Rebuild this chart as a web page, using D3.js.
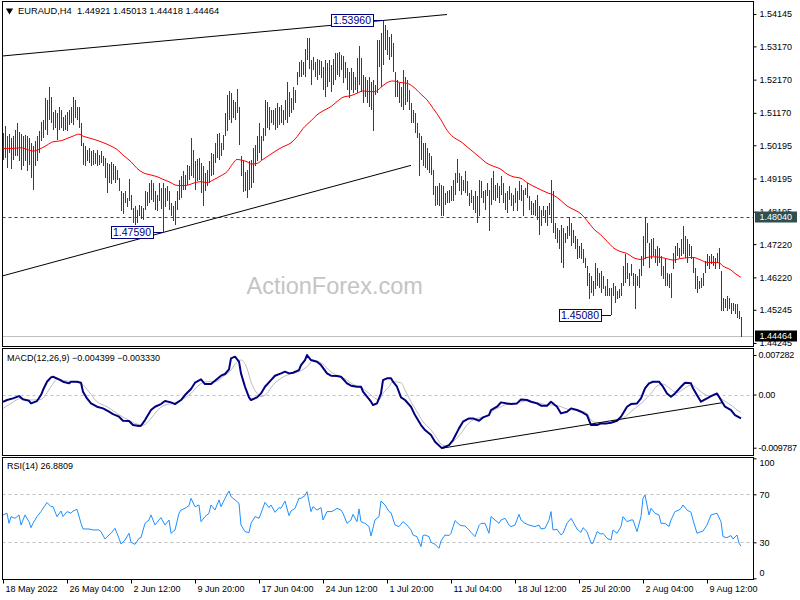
<!DOCTYPE html>
<html><head><meta charset="utf-8">
<script src="https://cdn.jsdelivr.net/npm/d3@7"></script>
<style>
body{margin:0;background:#fff;}
svg{display:block;font-family:"Liberation Sans",Arial,sans-serif;}
</style></head><body>
<svg id="c" width="800" height="600"></svg>
<script>
// ---------------- DATA ----------------
const symbolTitle = "EURAUD,H4";
const lastQuote = [1.44921, 1.45013, 1.44418, 1.44464]; // O H L C of last bar
const currentPrice = 1.44464;
const levelPrice = 1.48040;

// H4 bar highs (370 bars, 18 May 2022 20:00 .. 12 Aug 2022 08:00)
const highs = [
1.5056,1.5076,1.5046,1.5054,1.5041,1.5048,1.5064,1.5086,1.5058,1.5054,
1.5046,1.5051,1.5048,1.5041,1.5026,1.5016,1.5031,1.5046,1.5061,1.5091,
1.5096,1.5161,1.5156,1.5196,1.5164,1.5121,1.5126,1.5116,1.5136,1.5126,
1.5106,1.5111,1.5121,1.5126,1.5136,1.5164,1.5156,1.5134,1.5136,1.5086,
1.5026,1.5016,1.5006,1.5011,1.5001,1.5006,1.4996,1.5006,1.4991,1.5001,
1.4986,1.4981,1.4966,1.4964,1.4968,1.4964,1.4956,1.4946,1.4921,1.4881,
1.4876,1.4881,1.4861,1.4918,1.4871,1.4831,1.4836,1.4826,1.4841,1.4836,
1.4831,1.4881,1.4878,1.4906,1.4914,1.4906,1.4881,1.4871,1.4906,1.4891,
1.4906,1.4891,1.4896,1.4881,1.4846,1.4836,1.4851,1.4881,1.4916,1.4926,
1.4941,1.4931,1.4961,1.4956,1.5041,1.5006,1.4971,1.4978,1.4981,1.4966,
1.4956,1.4936,1.4946,1.4971,1.4996,1.4994,1.5026,1.5054,1.5056,1.5026,
1.5051,1.5116,1.5171,1.5183,1.5176,1.5156,1.5151,1.5188,1.5136,1.4986,
1.4971,1.4938,1.4946,1.4971,1.4976,1.5011,1.5021,1.5046,1.5086,1.5046,
1.5071,1.5156,1.5151,1.5136,1.5126,1.5126,1.5131,1.5146,1.5136,1.5141,
1.5126,1.5156,1.5211,1.5181,1.5161,1.5196,1.5186,1.5241,1.5271,1.5276,
1.5271,1.5308,1.5343,1.5341,1.5276,1.5286,1.5271,1.5278,1.5276,1.5274,
1.5256,1.5276,1.5266,1.5276,1.5261,1.5278,1.5296,1.5298,1.5301,1.5291,
1.5288,1.5271,1.5251,1.5241,1.5251,1.5241,1.5226,1.5281,1.5318,1.5281,
1.5231,1.5226,1.5216,1.5226,1.5211,1.5216,1.5201,1.5336,1.5336,1.5356,
1.5396,1.5381,1.5366,1.5346,1.5354,1.5326,1.5241,1.5216,1.5206,1.5196,
1.5246,1.5226,1.5216,1.5186,1.5146,1.5126,1.5116,1.5086,1.5056,1.5046,
1.5026,1.5026,1.5011,1.4996,1.4986,1.4946,1.4896,1.4896,1.4906,1.4901,
1.4896,1.4876,1.4881,1.4886,1.4896,1.4916,1.4936,1.4978,1.4936,1.4926,
1.4916,1.4941,1.4911,1.4876,1.4886,1.4866,1.4881,1.4866,1.4916,1.4911,
1.4881,1.4886,1.4906,1.4886,1.4921,1.4943,1.4901,1.4906,1.4896,1.4926,
1.4906,1.4876,1.4881,1.4896,1.4876,1.4871,1.4891,1.4881,1.4911,1.4901,
1.4886,1.4891,1.4906,1.4866,1.4851,1.4846,1.4856,1.4871,1.4836,1.4826,
1.4836,1.4826,1.4836,1.4846,1.4914,1.4881,1.4786,1.4771,1.4766,1.4781,
1.4771,1.4756,1.4776,1.4804,1.4786,1.4766,1.4746,1.4736,1.4716,1.4726,
1.4706,1.4681,1.4656,1.4636,1.4626,1.4611,1.4666,1.4651,1.4636,1.4641,
1.4626,1.4596,1.4616,1.4591,1.4591,1.4606,1.4596,1.4581,1.4586,1.4606,
1.4656,1.4691,1.4666,1.4636,1.4661,1.4636,1.4631,1.4626,1.4646,1.4686,
1.4746,1.4804,1.4786,1.4726,1.4736,1.4741,1.4706,1.4716,1.4711,1.4686,
1.4656,1.4676,1.4636,1.4631,1.4636,1.4696,1.4716,1.4726,1.4711,1.4736,
1.4776,1.4746,1.4736,1.4721,1.4716,1.4681,1.4651,1.4626,1.4611,1.4621,
1.4636,1.4671,1.4691,1.4686,1.4691,1.4686,1.4681,1.4696,1.4710,1.4641,
1.4561,1.4556,1.4566,1.4561,1.4546,1.4546,1.4541,1.4541,1.4521,1.45013
];
const lows = [
1.4976,1.4981,1.4951,1.4996,1.4948,1.4974,1.4986,1.4988,1.4971,1.4944,
1.4956,1.4971,1.4941,1.4961,1.4921,1.4884,1.4956,1.4971,1.4996,1.5031,
1.5041,1.5066,1.5051,1.5096,1.5086,1.5066,1.5071,1.5036,1.5066,1.5071,
1.5061,1.5066,1.5061,1.5081,1.5086,1.5081,1.5101,1.5096,1.5071,1.5016,
1.4961,1.4956,1.4971,1.4966,1.4958,1.4961,1.4964,1.4956,1.4961,1.4966,
1.4956,1.4921,1.4876,1.4906,1.4904,1.4916,1.4906,1.4916,1.4881,1.4821,
1.4814,1.4846,1.4834,1.4851,1.4826,1.4786,1.4781,1.4786,1.4806,1.4798,
1.4796,1.4826,1.4836,1.4846,1.4856,1.4848,1.4826,1.4821,1.4851,1.4828,
1.4759,1.4834,1.4851,1.4826,1.4806,1.4791,1.4781,1.4826,1.4856,1.4861,
1.4886,1.4886,1.4901,1.4916,1.4926,1.4921,1.4886,1.4911,1.4916,1.4876,
1.4836,1.4881,1.4896,1.4906,1.4926,1.4931,1.4966,1.4981,1.4976,1.4986,
1.5006,1.5046,1.5061,1.5096,1.5086,1.5101,1.5096,1.5116,1.5021,1.4926,
1.4878,1.4881,1.4861,1.4886,1.4891,1.4906,1.4956,1.4971,1.4996,1.4976,
1.5031,1.5046,1.5071,1.5066,1.5086,1.5081,1.5066,1.5071,1.5081,1.5086,
1.5081,1.5096,1.5086,1.5106,1.5116,1.5126,1.5146,1.5201,1.5226,1.5226,
1.5231,1.5226,1.5276,1.5248,1.5201,1.5246,1.5226,1.5216,1.5231,1.5221,
1.5186,1.5166,1.5196,1.5211,1.5181,1.5201,1.5216,1.5231,1.5226,1.5246,
1.5206,1.5221,1.5186,1.5161,1.5186,1.5176,1.5186,1.5176,1.5201,1.5181,
1.5146,1.5166,1.5146,1.5136,1.5126,1.5061,1.5171,1.5176,1.5256,1.5196,
1.5261,1.5306,1.5291,1.5276,1.5286,1.5241,1.5166,1.5166,1.5146,1.5136,
1.5126,1.5141,1.5151,1.5126,1.5086,1.5086,1.5056,1.5041,1.4926,1.4976,
1.4956,1.4951,1.4946,1.4936,1.4931,1.4871,1.4836,1.4841,1.4836,1.4806,
1.4806,1.4841,1.4846,1.4846,1.4851,1.4851,1.4871,1.4906,1.4881,1.4871,
1.4881,1.4876,1.4866,1.4836,1.4846,1.4826,1.4816,1.4786,1.4806,1.4861,
1.4846,1.4826,1.4866,1.4761,1.4841,1.4856,1.4851,1.4861,1.4846,1.4871,
1.4846,1.4826,1.4816,1.4856,1.4836,1.4821,1.4846,1.4821,1.4856,1.4851,
1.4806,1.4871,1.4861,1.4826,1.4811,1.4811,1.4806,1.4796,1.4748,1.4776,
1.4806,1.4786,1.4776,1.4811,1.4786,1.4756,1.4736,1.4726,1.4706,1.4666,
1.4651,1.4726,1.4736,1.4746,1.4716,1.4726,1.4706,1.4676,1.4681,1.4676,
1.4666,1.4651,1.4596,1.4556,1.4576,1.4566,1.4586,1.4596,1.4591,1.4576,
1.4586,1.4566,1.4566,1.4566,1.4508,1.4566,1.4546,1.4556,1.4561,1.4566,
1.4596,1.4606,1.4616,1.4596,1.4626,1.4596,1.4526,1.4596,1.4591,1.4626,
1.4656,1.4676,1.4726,1.4651,1.4676,1.4686,1.4666,1.4656,1.4666,1.4626,
1.4616,1.4596,1.4596,1.4591,1.4561,1.4646,1.4666,1.4686,1.4681,1.4686,
1.4691,1.4681,1.4666,1.4686,1.4676,1.4636,1.4586,1.4576,1.4586,1.4591,
1.4596,1.4636,1.4656,1.4646,1.4661,1.4656,1.4646,1.4666,1.4646,1.4521,
1.4521,1.4531,1.4521,1.4526,1.4511,1.4521,1.4511,1.4501,1.4496,1.44418
];

// moving average (red) [bar index, value]
const maPoints = [[0,1.5010],[5,1.5010],[9,1.5012],[12,1.5007],[15,1.5002],[19,1.5010],[22,1.5020],[25,1.5030],[29,1.5033],[32,1.5040],[35,1.5047],[38,1.5053],[40,1.5047],[44,1.5040],[49,1.5030],[54,1.5017],[57,1.5007],[60,1.4990],[64,1.4970],[67,1.4950],[70,1.4937],[74,1.4930],[77,1.4925],[80,1.4917],[84,1.4907],[86,1.4900],[89,1.4898],[92,1.4899],[95,1.4905],[99,1.4910],[102,1.4907],[105,1.4915],[109,1.4928],[112,1.4940],[115,1.4965],[117,1.4977],[119,1.4975],[122,1.4970],[124,1.4963],[127,1.4965],[130,1.4977],[134,1.4993],[137,1.5005],[140,1.5015],[144,1.5027],[147,1.5045],[150,1.5070],[154,1.5093],[157,1.5111],[160,1.5123],[164,1.5136],[167,1.5151],[170,1.5164],[174,1.5169],[177,1.5176],[180,1.5183],[184,1.5181],[186,1.5181],[189,1.5194],[192,1.5208],[195,1.5213],[199,1.5208],[202,1.5206],[205,1.5196],[209,1.5173],[212,1.5156],[215,1.5131],[219,1.5096],[222,1.5065],[225,1.5045],[229,1.5030],[232,1.5015],[235,1.5000],[239,1.4980],[242,1.4965],[245,1.4957],[249,1.4947],[252,1.4933],[255,1.4925],[259,1.4920],[262,1.4907],[265,1.4897],[269,1.4885],[272,1.4877],[275,1.4870],[279,1.4853],[282,1.4837],[285,1.4827],[289,1.4813],[292,1.4793],[295,1.4770],[299,1.4749],[302,1.4731],[305,1.4712],[309,1.4699],[312,1.4694],[315,1.4682],[319,1.4676],[322,1.4682],[325,1.4684],[329,1.4682],[332,1.4678],[335,1.4674],[339,1.4679],[342,1.4681],[345,1.4682],[349,1.4674],[352,1.4667],[355,1.4667],[358,1.4666],[360,1.4656],[364,1.4644],[366,1.4634],[369,1.4622]];

// MACD(12,26,9) main line and signal [bar index, value]
const macdPoints = [[0,-0.00132],[2,-0.00101],[5,-0.00071],[8,-0.00028],[10,-0.00089],[13,-0.00114],[14,-0.00163],[17,-0.00120],[19,-0.00009],[20,0.00083],[22,0.00236],[24,0.00316],[25,0.00328],[28,0.00279],[30,0.00236],[33,0.00206],[34,0.00236],[37,0.00236],[39,0.00218],[40,0.00052],[42,-0.00071],[44,-0.00163],[47,-0.00224],[50,-0.00255],[53,-0.00316],[55,-0.00359],[58,-0.00408],[60,-0.00482],[63,-0.00488],[65,-0.00562],[68,-0.00580],[69,-0.00574],[71,-0.00470],[74,-0.00285],[76,-0.00224],[79,-0.00175],[81,-0.00120],[84,-0.00144],[86,-0.00175],[89,-0.00101],[91,-0.00009],[94,0.00101],[96,0.00218],[99,0.00279],[101,0.00193],[104,0.00193],[106,0.00255],[109,0.00347],[111,0.00378],[113,0.00464],[114,0.00666],[116,0.00697],[118,0.00605],[119,0.00390],[121,0.00144],[123,-0.00052],[124,-0.00101],[127,-0.00052],[129,0.00021],[131,0.00144],[134,0.00267],[136,0.00347],[139,0.00390],[141,0.00421],[143,0.00390],[145,0.00402],[148,0.00451],[149,0.00543],[151,0.00635],[152,0.00728],[154,0.00635],[157,0.00605],[159,0.00543],[162,0.00390],[164,0.00347],[167,0.00341],[169,0.00328],[172,0.00206],[174,0.00163],[177,0.00144],[179,0.00144],[180,0.00052],[182,-0.00040],[184,-0.00132],[185,-0.00193],[187,-0.00163],[189,0.00021],[190,0.00267],[192,0.00298],[194,0.00298],[195,0.00236],[197,0.00144],[199,-0.00052],[201,-0.00101],[204,-0.00224],[206,-0.00378],[209,-0.00562],[211,-0.00654],[214,-0.00746],[216,-0.00869],[219,-0.00973],[220,-0.00979],[223,-0.00930],[225,-0.00838],[228,-0.00623],[230,-0.00500],[233,-0.00439],[235,-0.00439],[238,-0.00482],[240,-0.00421],[243,-0.00378],[244,-0.00285],[247,-0.00224],[249,-0.00144],[252,-0.00163],[254,-0.00175],[257,-0.00163],[259,-0.00089],[262,-0.00101],[264,-0.00132],[267,-0.00163],[269,-0.00206],[272,-0.00206],[274,-0.00132],[277,-0.00224],[279,-0.00347],[282,-0.00316],[284,-0.00255],[287,-0.00285],[289,-0.00316],[292,-0.00378],[294,-0.00562],[297,-0.00562],[299,-0.00531],[302,-0.00531],[304,-0.00519],[307,-0.00482],[309,-0.00408],[312,-0.00224],[314,-0.00175],[317,-0.00163],[319,-0.00071],[321,0.00114],[323,0.00206],[325,0.00236],[328,0.00236],[330,0.00144],[332,0.00021],[334,-0.00040],[336,0.00021],[339,0.00144],[341,0.00218],[344,0.00206],[345,0.00114],[348,-0.00071],[349,-0.00132],[352,-0.00071],[354,-0.00028],[357,0.00021],[358,-0.00040],[361,-0.00224],[364,-0.00285],[366,-0.00378],[369,-0.00440]];
const signalPoints = [[0,-0.00255],[4,-0.00163],[9,-0.00071],[14,-0.00101],[19,-0.00089],[24,0.00144],[27,0.00279],[31,0.00255],[35,0.00236],[39,0.00206],[43,0.00052],[47,-0.00132],[52,-0.00224],[57,-0.00347],[62,-0.00457],[67,-0.00543],[70,-0.00562],[74,-0.00439],[77,-0.00298],[81,-0.00193],[85,-0.00163],[89,-0.00101],[94,0.00021],[98,0.00175],[102,0.00236],[106,0.00236],[110,0.00328],[114,0.00451],[117,0.00605],[119,0.00635],[122,0.00482],[124,0.00236],[127,0.00021],[129,-0.00040],[132,0.00021],[135,0.00175],[139,0.00298],[142,0.00359],[145,0.00390],[149,0.00439],[152,0.00513],[155,0.00623],[159,0.00586],[162,0.00482],[165,0.00390],[169,0.00328],[172,0.00267],[175,0.00187],[179,0.00126],[182,0.00052],[185,-0.00040],[188,-0.00101],[190,0.00021],[193,0.00144],[195,0.00236],[199,0.00218],[201,0.00083],[204,-0.00132],[207,-0.00316],[210,-0.00500],[214,-0.00654],[217,-0.00807],[219,-0.00912],[222,-0.00948],[225,-0.00869],[229,-0.00715],[232,-0.00562],[235,-0.00470],[239,-0.00421],[242,-0.00396],[245,-0.00298],[249,-0.00224],[252,-0.00181],[255,-0.00175],[259,-0.00132],[262,-0.00114],[265,-0.00132],[269,-0.00163],[272,-0.00193],[275,-0.00193],[279,-0.00224],[282,-0.00267],[285,-0.00285],[289,-0.00304],[292,-0.00347],[294,-0.00470],[297,-0.00519],[300,-0.00531],[304,-0.00519],[307,-0.00488],[310,-0.00439],[314,-0.00316],[317,-0.00224],[320,-0.00132],[324,0.00021],[327,0.00157],[330,0.00193],[334,0.00095],[337,0.00034],[340,0.00095],[344,0.00175],[347,0.00114],[350,0.00021],[354,-0.00028],[357,-0.00009],[360,-0.00101],[364,-0.00193],[367,-0.00285],[369,-0.00333]];
const macdLast = [-0.004399, -0.003330];

// RSI(14) [bar index, value]
const rsiPoints = [[0,52.8],[2,54.2],[3,45.8],[4,51.4],[6,50.0],[8,52.8],[9,44.4],[11,52.8],[13,47.2],[14,42.2],[15,45.8],[17,51.4],[19,55.6],[20,58.3],[22,63.1],[24,59.7],[25,59.7],[27,51.4],[29,56.1],[30,51.4],[32,55.6],[34,54.2],[35,56.1],[37,57.5],[39,45.8],[40,41.1],[43,41.1],[45,40.3],[48,40.3],[49,38.9],[51,32.8],[53,36.1],[54,37.5],[56,41.7],[58,33.3],[59,28.6],[61,31.9],[63,37.5],[64,30.0],[66,28.3],[68,33.3],[69,33.9],[71,45.8],[73,48.6],[74,52.8],[76,44.4],[78,48.6],[79,50.6],[81,44.4],[83,48.6],[84,37.5],[86,40.3],[88,54.2],[89,56.9],[91,58.3],[93,60.6],[94,66.7],[96,59.7],[98,61.1],[99,47.2],[101,51.4],[103,54.2],[104,61.1],[106,56.9],[108,65.3],[109,59.7],[111,66.7],[113,72.8],[114,68.1],[116,65.3],[118,62.5],[119,44.4],[121,38.9],[123,38.1],[124,45.8],[126,51.4],[128,50.0],[129,54.2],[131,63.3],[133,58.9],[134,61.1],[136,55.0],[138,58.9],[139,58.3],[141,64.4],[143,52.2],[144,56.1],[146,58.3],[148,66.7],[149,66.7],[151,68.9],[152,72.2],[154,55.6],[155,59.7],[157,56.9],[159,58.9],[160,48.6],[162,55.6],[164,55.6],[165,56.1],[167,58.3],[169,56.9],[170,54.2],[172,45.8],[174,48.6],[175,53.3],[177,47.2],[178,57.8],[179,47.2],[181,45.8],[183,43.1],[184,35.3],[186,48.6],[188,51.4],[189,64.4],[191,61.1],[193,55.6],[194,54.7],[196,44.4],[198,43.1],[200,47.2],[202,44.4],[204,40.3],[205,36.1],[207,34.7],[209,26.4],[210,35.6],[211,36.1],[213,34.7],[214,30.0],[216,28.3],[218,25.0],[219,31.1],[221,36.1],[223,35.6],[224,37.5],[226,48.1],[228,45.0],[229,43.9],[231,43.6],[233,40.3],[234,38.3],[236,34.7],[238,43.9],[239,45.8],[241,45.8],[243,37.5],[244,51.4],[246,48.6],[248,45.8],[249,48.6],[251,50.0],[253,44.4],[254,43.1],[256,44.4],[258,53.3],[259,48.6],[261,45.8],[263,44.4],[264,43.9],[266,43.1],[268,44.4],[269,41.1],[271,41.7],[273,48.6],[274,55.6],[275,40.3],[277,40.8],[279,36.1],[280,37.5],[282,45.8],[284,50.0],[285,47.2],[287,41.1],[289,38.3],[290,42.2],[292,38.9],[294,29.2],[295,29.2],[297,38.9],[299,36.7],[300,37.5],[302,33.3],[304,31.9],[305,40.3],[307,37.5],[309,43.1],[310,51.4],[312,47.2],[314,48.6],[315,48.6],[317,38.9],[319,51.4],[320,66.7],[321,69.4],[323,52.8],[324,58.3],[326,54.2],[328,52.8],[329,45.8],[331,45.8],[333,43.1],[334,48.6],[336,55.6],[338,56.9],[339,58.3],[340,61.1],[342,56.9],[344,55.0],[345,48.6],[347,37.5],[349,38.9],[350,39.4],[352,44.4],[354,52.8],[355,53.3],[357,54.2],[359,47.2],[360,34.7],[362,33.9],[364,35.6],[365,32.8],[367,36.1],[368,29.2],[369,26.88]];
const rsiLast = 26.8809;

// annotations (hand-drawn trend lines, labelled extremes)
const priceTrendLines = [[[-1,1.52877],[222,1.5413]], [[-1,1.46252],[204,1.4959]]];
const macdTrendLine = [[219,-0.00991],[359.5,-0.00151]];
const extremes = [{i:190, price:1.53960}, {i:80, price:1.47590}, {i:304, price:1.45080}];

// axes
const priceTicks = [1.54145,1.53170,1.52170,1.51170,1.50195,1.49195,1.48195,1.47220,1.46220,1.45245,1.44245];
const macdTicks = [0.007282, 0, -0.009787];
const macdTickLabels = ["0.007282","0.00","-0.009787"];
const rsiTicks = [100,70,30,0];
const rsiLevels = [70,30];
const dateTickIdx = [0,32,64,96,128,160,192,224,256,288,320,352];
const dateTickLabels = ["18 May 2022","26 May 04:00","2 Jun 12:00","9 Jun 20:00","17 Jun 04:00","24 Jun 12:00","1 Jul 20:00","11 Jul 04:00","18 Jul 12:00","25 Jul 20:00","2 Aug 04:00","9 Aug 12:00"];

// ---------------- DRAW ----------------
const svg = d3.select("#c");
const L = 2.5, R = 753.5;
const P = {main:[1.5,346.5], macd:[348.5,455.5], rsi:[457.5,579.5]};
const FS = 9;
const barColor = "#1b4560";

const x = d3.scaleLinear().domain([0, highs.length-1]).range([3, 3 + 2*(highs.length-1)]);
const yP = d3.scaleLinear().domain([1.44245, 1.54145]).range([343, 14]);
const yM = d3.scaleLinear().domain([-0.009787, 0.007282]).range([447.7, 355]);
const yR = d3.scaleLinear().domain([0, 100]).range([578.3, 458.3]);

const defs = svg.append("defs");
for (const k of Object.keys(P)) {
  defs.append("clipPath").attr("id","clip-"+k).append("rect")
    .attr("x", L+0.5).attr("y", P[k][0]+0.5).attr("width", R-L-1).attr("height", P[k][1]-P[k][0]-1);
}

// watermark
svg.append("text").attr("x",246.5).attr("y",293.5).attr("font-size",23.5)
  .attr("fill","#c4c4c4").text("ActionForex.com");

// main panel
const gMain = svg.append("g").attr("clip-path","url(#clip-main)");
gMain.append("line").attr("x1",L).attr("x2",R).attr("y1",Math.round(yP(levelPrice))+0.5).attr("y2",Math.round(yP(levelPrice))+0.5)
  .attr("stroke","#2f4f4f").attr("stroke-dasharray","3,3");
gMain.append("line").attr("x1",L).attr("x2",R).attr("y1",Math.round(yP(currentPrice))+0.5).attr("y2",Math.round(yP(currentPrice))+0.5)
  .attr("stroke","#c0c0c0");
gMain.append("g").selectAll("line").data(highs).join("line")
  .attr("x1",(d,i)=>Math.round(x(i))+0.5).attr("x2",(d,i)=>Math.round(x(i))+0.5)
  .attr("y1",d=>yP(d)).attr("y2",(d,i)=>yP(lows[i]))
  .attr("stroke",barColor).attr("stroke-width",1).attr("shape-rendering","crispEdges");
gMain.append("path").datum(maPoints)
  .attr("d", d3.line().x(d=>x(d[0])).y(d=>yP(d[1])).curve(d3.curveMonotoneX))
  .attr("fill","none").attr("stroke","#ff0000").attr("stroke-width",1);
gMain.selectAll(".tl").data(priceTrendLines).join("path").attr("class","tl")
  .attr("d", d3.line().x(d=>x(d[0])).y(d=>yP(d[1])))
  .attr("fill","none").attr("stroke","#000").attr("stroke-width",1);
const ex = gMain.selectAll(".ex").data(extremes).join("g").attr("class","ex");
ex.append("line").attr("x1",d=>x(d.i)-10).attr("x2",d=>x(d.i))
  .attr("y1",d=>Math.round(yP(d.price))+0.5).attr("y2",d=>Math.round(yP(d.price))+0.5)
  .attr("stroke","#000080");
ex.append("rect").attr("x",d=>Math.round(x(d.i)-52)+0.5).attr("y",d=>Math.round(yP(d.price)-6)+0.5)
  .attr("width",42).attr("height",12).attr("fill","#fff").attr("stroke","#000080");
ex.append("text").attr("x",d=>x(d.i)-31).attr("y",d=>yP(d.price)+4)
  .attr("text-anchor","middle").attr("font-size",10.5).attr("fill","#000080")
  .text(d=>d3.format(".5f")(d.price));

// MACD panel
const gMacd = svg.append("g").attr("clip-path","url(#clip-macd)");
gMacd.append("line").attr("x1",L).attr("x2",R).attr("y1",Math.round(yM(0))+0.5).attr("y2",Math.round(yM(0))+0.5)
  .attr("stroke","#c0c0c0").attr("stroke-dasharray","3,3");
gMacd.append("path").datum(signalPoints)
  .attr("d", d3.line().x(d=>x(d[0])).y(d=>yM(d[1])).curve(d3.curveMonotoneX))
  .attr("fill","none").attr("stroke","#bdbdbd").attr("stroke-width",1);
gMacd.append("path").datum(macdPoints)
  .attr("d", d3.line().x(d=>x(d[0])).y(d=>yM(d[1])))
  .attr("fill","none").attr("stroke","#000080").attr("stroke-width",2).attr("stroke-linejoin","round");
gMacd.append("path").datum(macdTrendLine)
  .attr("d", d3.line().x(d=>x(d[0])).y(d=>yM(d[1])))
  .attr("fill","none").attr("stroke","#000").attr("stroke-width",1);

// RSI panel
const gRsi = svg.append("g").attr("clip-path","url(#clip-rsi)");
gRsi.selectAll(".lvl").data(rsiLevels).join("line").attr("class","lvl")
  .attr("x1",L).attr("x2",R).attr("y1",d=>Math.round(yR(d))+0.5).attr("y2",d=>Math.round(yR(d))+0.5)
  .attr("stroke","#c0c0c0").attr("stroke-dasharray","3,3");
gRsi.append("path").datum(rsiPoints)
  .attr("d", d3.line().x(d=>x(d[0])).y(d=>yR(d[1])))
  .attr("fill","none").attr("stroke","#1e90ff").attr("stroke-width",1);

// frames
for (const k of Object.keys(P)) {
  svg.append("rect").attr("x",L).attr("y",P[k][0]).attr("width",R-L).attr("height",P[k][1]-P[k][0])
    .attr("fill","none").attr("stroke","#000").attr("stroke-width",1);
}

// right axes
const axMain = svg.append("g").attr("transform",`translate(${R},0)`)
  .call(d3.axisRight(yP).tickValues(priceTicks).tickSize(3).tickFormat(d3.format(".5f")));
const axMacd = svg.append("g").attr("transform",`translate(${R},0)`)
  .call(d3.axisRight(yM).tickValues(macdTicks).tickSize(3).tickFormat((d,i)=>macdTickLabels[i]));
const axRsi = svg.append("g").attr("transform",`translate(${R},0)`)
  .call(d3.axisRight(yR).tickValues(rsiTicks).tickSize(3).tickFormat(d3.format("d")));
axRsi.selectAll(".tick").filter(d=>d===100).select("text").attr("y",4);
axRsi.selectAll(".tick").filter(d=>d===0).select("text").attr("y",-6);
for (const a of [axMain, axMacd, axRsi]) {
  a.select(".domain").remove();
  a.attr("font-size",FS).attr("font-family",null);
  a.selectAll("text").attr("fill","#000").attr("x",6);
  a.selectAll("line").attr("stroke","#000");
}
axMacd.selectAll("text").attr("x",5).attr("letter-spacing",-0.25);

// right price boxes
const boxes = [{p:levelPrice, bg:"#2f4f4f"}, {p:currentPrice, bg:"#000"}];
const bx = svg.append("g").selectAll("g").data(boxes).join("g");
bx.append("rect").attr("x",755).attr("y",d=>Math.round(yP(d.p))-5.5).attr("width",42).attr("height",11).attr("fill",d=>d.bg);
bx.append("text").attr("x",759.5).attr("y",d=>yP(d.p)+3.5).attr("font-size",FS).attr("fill","#fff")
  .text(d=>d3.format(".5f")(d.p));

// x axis
const gx = svg.append("g").attr("transform",`translate(0,${P.rsi[1]})`);
const xt = gx.selectAll("g").data(dateTickIdx).join("g")
  .attr("transform",d=>`translate(${Math.round(x(d))+0.5},0)`);
xt.append("line").attr("y1",0).attr("y2",4).attr("stroke","#000");
xt.append("text").attr("x",2).attr("y",12.5).attr("font-size",FS).attr("fill","#000")
  .text((d,i)=>dateTickLabels[i]);

// titles
svg.append("path").attr("d", d3.symbol(d3.symbolTriangle, 22)()).attr("transform","translate(9.5,10.5) rotate(180)").attr("fill","#000");
svg.append("text").attr("x",18).attr("y",14).attr("font-size",9.3).attr("fill","#000").style("white-space","pre")
  .text(symbolTitle + "  " + lastQuote.map(d3.format(".5f")).join(" "));
svg.append("text").attr("x",7).attr("y",360.5).attr("font-size",FS).attr("fill","#000")
  .text("MACD(12,26,9) " + macdLast.map(d3.format(".6f")).join(" "));
svg.append("text").attr("x",7).attr("y",469).attr("font-size",FS).attr("fill","#000")
  .text("RSI(14) " + d3.format(".4f")(rsiLast));
</script>
</body></html>
